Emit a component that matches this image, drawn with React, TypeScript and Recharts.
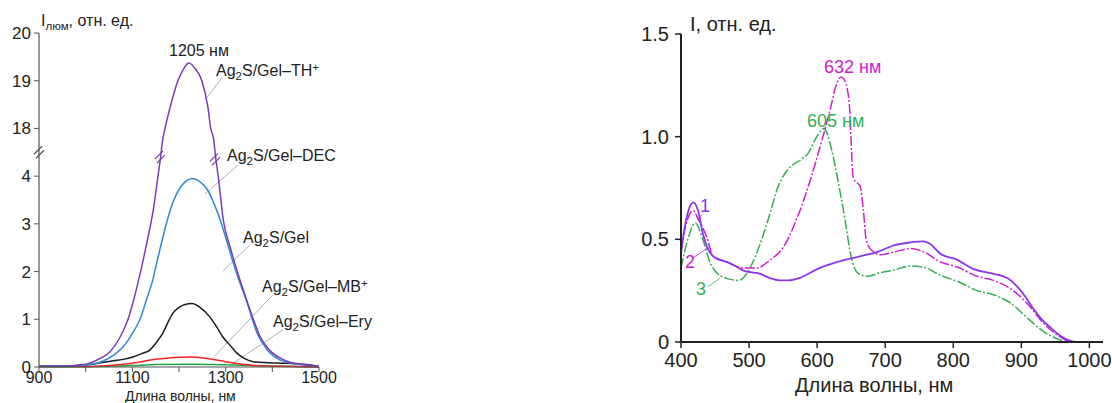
import React from 'react';
import { LineChart, Line, XAxis, YAxis, ReferenceLine, ReferenceDot } from 'recharts';

// left panel: luminescence, y axis broken between 4 and 18
const thPlus: [number, number][] = [
  [900, 0.02], [950, 0.02], [1000, 0.06], [1025, 0.15], [1050, 0.3], [1075, 0.65], [1090, 0.98],
  [1100, 1.3], [1110, 1.68], [1120, 2.1], [1134, 2.74], [1145, 3.3], [1155, 4.0], [1160, 9.0],
  [1165, 14.6], [1170, 18.0], [1181, 18.44], [1196, 18.95], [1210, 19.25], [1221, 19.37],
  [1235, 19.25], [1249, 19.0], [1262, 18.44], [1268, 18.0], [1274, 15.0], [1279, 9.0], [1284, 4.0],
  [1295, 3.08], [1310, 2.5], [1324, 2.03], [1340, 1.55], [1352, 1.2], [1363, 0.9], [1374, 0.63],
  [1390, 0.4], [1401, 0.29], [1420, 0.17], [1438, 0.1], [1460, 0.06], [1487, 0.03], [1500, 0.01],
];
const dec: [number, number][] = [
  [900, 0.02], [950, 0.02], [1000, 0.04], [1031, 0.1], [1060, 0.25], [1080, 0.42], [1100, 0.7],
  [1116, 0.99], [1130, 1.4], [1144, 1.83], [1155, 2.3], [1166, 2.74], [1177, 3.15], [1187, 3.45],
  [1200, 3.72], [1213, 3.88], [1228, 3.95], [1245, 3.88], [1260, 3.73], [1274, 3.45], [1288, 3.09],
  [1302, 2.65], [1316, 2.19], [1331, 1.75], [1346, 1.35], [1357, 1.0], [1367, 0.72], [1389, 0.36],
  [1416, 0.15], [1440, 0.08], [1459, 0.05], [1480, 0.03], [1500, 0.01],
];
const gel: [number, number][] = [
  [900, 0.02], [950, 0.02], [1009, 0.05], [1040, 0.1], [1059, 0.13], [1080, 0.16], [1101, 0.21],
  [1120, 0.28], [1138, 0.36], [1152, 0.52], [1166, 0.72], [1177, 0.95], [1187, 1.13], [1200, 1.25],
  [1213, 1.31], [1228, 1.33], [1245, 1.25], [1266, 1.05], [1280, 0.85], [1294, 0.63], [1310, 0.45],
  [1324, 0.29], [1340, 0.18], [1359, 0.11], [1390, 0.09], [1416, 0.08], [1450, 0.07], [1474, 0.05],
  [1500, 0.01],
];
const mbPlus: [number, number][] = [
  [900, 0.01], [1000, 0.01], [1050, 0.03], [1100, 0.08], [1150, 0.16], [1190, 0.2], [1228, 0.21],
  [1260, 0.18], [1300, 0.11], [1340, 0.05], [1380, 0.02], [1450, 0.01], [1500, 0],
];
const ery: [number, number][] = [
  [900, 0], [1000, 0.005], [1100, 0.03], [1150, 0.05], [1228, 0.06], [1300, 0.045], [1400, 0.02], [1500, 0],
];
const leftXTicks = [900, 1000, 1100, 1200, 1300, 1400, 1500];
const leftXLabels = ['900', '', '1100', '', '1300', '', '1500'];
const leftYTicks = [0, 1, 2, 3, 4, 5, 6, 7];
const leftYLabels = ['0', '1', '2', '3', '4', '18', '19', '20'];

// right panel: absorption spectra 1, 2, 3
const spec1: [number, number][] = [
  [400, 0.43], [405, 0.55], [410, 0.63], [418, 0.68], [425, 0.64], [432, 0.53], [440, 0.45],
  [450, 0.41], [467, 0.39], [480, 0.37], [494, 0.345], [513, 0.335], [532, 0.31], [545, 0.3],
  [557, 0.3], [577, 0.315], [600, 0.355], [630, 0.39], [660, 0.415], [690, 0.44], [712, 0.47],
  [737, 0.485], [756, 0.49], [765, 0.48], [781, 0.43], [806, 0.4], [830, 0.355], [855, 0.335],
  [880, 0.31], [894, 0.27], [906, 0.22], [918, 0.16], [930, 0.11], [943, 0.07], [955, 0.035],
  [968, 0.01], [980, 0], [1000, 0], [1020, 0],
];
const spec2: [number, number][] = [
  [400, 0.44], [405, 0.54], [410, 0.6], [418, 0.64], [425, 0.6], [438, 0.51], [447, 0.42],
  [467, 0.39], [491, 0.36], [511, 0.36], [531, 0.4], [550, 0.46], [557, 0.5], [570, 0.6],
  [577, 0.66], [591, 0.8], [606, 0.97], [619, 1.13], [628, 1.25], [635, 1.29], [641, 1.27],
  [648, 1.13], [650, 0.97], [653, 0.8], [657, 0.78], [663, 0.76], [668, 0.64], [672, 0.5],
  [679, 0.45], [693, 0.425], [715, 0.44], [737, 0.455], [756, 0.44], [781, 0.39], [806, 0.365],
  [835, 0.32], [859, 0.3], [884, 0.26], [908, 0.19], [933, 0.09], [957, 0.025], [974, 0], [1020, 0],
];
const spec3: [number, number][] = [
  [400, 0.36], [410, 0.5], [421, 0.58], [432, 0.5], [443, 0.385], [453, 0.335], [467, 0.31],
  [484, 0.3], [497, 0.335], [509, 0.415], [528, 0.595], [543, 0.76], [557, 0.84], [577, 0.89],
  [587, 0.92], [597, 0.985], [606, 1.03], [610, 1.04], [621, 0.94], [631, 0.78], [641, 0.595],
  [650, 0.415], [660, 0.335], [675, 0.32], [690, 0.335], [712, 0.35], [737, 0.37], [756, 0.365],
  [781, 0.325], [810, 0.29], [835, 0.25], [859, 0.23], [884, 0.19], [908, 0.12], [933, 0.05],
  [957, 0.01], [965, 0], [1020, 0],
];
const rightXTicks = [400, 500, 600, 700, 800, 900, 1000];
const rightYTicks = [0, 0.5, 1.0, 1.5];
const rightYLabels = ['0', '0.5', '1.0', '1.5'];

const FONT = '"Liberation Sans", Arial, sans-serif';
const PURPLE = '#7c3cb6';
const BLUE = '#2d8bd2';
const BLACK = '#1c1c1c';
const RED = '#ee2424';
const GREEN = '#22a445';
const VIOLET = '#8f35f2';
const MAGENTA = '#cc22cc';
const GREEN2 = '#35ad55';
const LEADER = '#9a9a9a';

const broken = (v: number) => (v <= 4 ? v : v >= 18 ? v - 13 : 4 + (v - 4) / 14);
const toLeft = (s: [number, number][]) => s.map(([x, v]) => ({ x, y: broken(v) }));
const toRight = (s: [number, number][]) => s.map(([x, y]) => ({ x, y }));

function Note({ x, y, size, color = '#222', children }: { x: number; y: number; size: number; color?: string; children: React.ReactNode }) {
  return (
    <div style={{ position: 'absolute', left: x, top: y - size * 0.55, fontSize: size, lineHeight: 1, color, whiteSpace: 'nowrap', fontFamily: FONT }}>
      {children}
    </div>
  );
}

const sub = (t: string) => <span style={{ fontSize: '0.72em', position: 'relative', top: '0.3em' }}>{t}</span>;
const sup = (t: string) => <span style={{ fontSize: '0.72em', position: 'relative', top: '-0.45em' }}>{t}</span>;

const breakMark = (color: string, w: number) => (p: any) => (
  <g stroke={color} strokeWidth={w}>
    <line x1={p.cx - 5} y1={p.cy + 2} x2={p.cx + 3} y2={p.cy - 6} />
    <line x1={p.cx - 3} y1={p.cy + 6} x2={p.cx + 5} y2={p.cy - 2} />
  </g>
);

export default function App() {
  const dash = '10 2 2 2';
  return (
    <div style={{ position: 'absolute', left: 0, top: 0, width: 1112, height: 403, background: '#fff', fontFamily: FONT }}>
      <div style={{ position: 'absolute', left: 0, top: 0 }}>
        <LineChart width={340} height={403} margin={{ top: 33, right: 21, bottom: 0, left: 9 }}>
          <XAxis type="number" dataKey="x" domain={[900, 1500]} ticks={leftXTicks} interval={0}
            tickFormatter={(v) => leftXLabels[leftXTicks.indexOf(v)] ?? ''}
            height={36} tickSize={5} tickMargin={0}
            axisLine={{ stroke: '#555', strokeWidth: 1.2 }} tickLine={{ stroke: '#555' }}
            tick={{ fontSize: 16, fill: '#222', fontFamily: FONT }} />
          <YAxis type="number" dataKey="y" domain={[0, 7]} ticks={leftYTicks} interval={0}
            tickFormatter={(v) => leftYLabels[leftYTicks.indexOf(v)] ?? ''}
            width={30} tickSize={5} tickMargin={3}
            axisLine={{ stroke: '#555', strokeWidth: 1.2 }} tickLine={{ stroke: '#555' }}
            tick={{ fontSize: 17, fill: '#222', fontFamily: FONT }} />
          <ReferenceLine segment={[{ x: 1292, y: 6.06 }, { x: 1256, y: 5.6 }]} stroke={LEADER} strokeWidth={0.8} />
          <ReferenceLine segment={[{ x: 1326, y: 4.23 }, { x: 1256, y: 3.63 }]} stroke={LEADER} strokeWidth={0.8} />
          <ReferenceLine segment={[{ x: 1352, y: 2.56 }, { x: 1294, y: 2.01 }]} stroke={LEADER} strokeWidth={0.8} />
          <ReferenceLine segment={[{ x: 1401, y: 1.51 }, { x: 1273, y: 0.19 }]} stroke={LEADER} strokeWidth={0.8} />
          <ReferenceLine segment={[{ x: 1423, y: 0.78 }, { x: 1316, y: 0.08 }]} stroke={LEADER} strokeWidth={0.8} />
          <Line data={toLeft(ery)} dataKey="y" type="monotone" stroke={GREEN} strokeWidth={1.5} dot={false} isAnimationActive={false} />
          <Line data={toLeft(mbPlus)} dataKey="y" type="monotone" stroke={RED} strokeWidth={1.5} dot={false} isAnimationActive={false} />
          <Line data={toLeft(gel)} dataKey="y" type="monotone" stroke={BLACK} strokeWidth={1.5} dot={false} isAnimationActive={false} />
          <Line data={toLeft(dec)} dataKey="y" type="monotone" stroke={BLUE} strokeWidth={1.5} dot={false} isAnimationActive={false} />
          <Line data={toLeft(thPlus)} dataKey="y" type="monotone" stroke={PURPLE} strokeWidth={1.5} dot={false} isAnimationActive={false} />
          <ReferenceDot x={900} y={4.5} r={0} shape={breakMark('#555', 1.2)} ifOverflow="visible" />
          <ReferenceDot x={1159} y={4.4} r={0} shape={breakMark(PURPLE, 1.2)} ifOverflow="visible" />
          <ReferenceDot x={1277} y={4.35} r={0} shape={breakMark(PURPLE, 1.2)} ifOverflow="visible" />
        </LineChart>
      </div>

      <Note x={41} y={22} size={16}>I{sub('люм')}, отн. ед.</Note>
      <Note x={169} y={52} size={16}>1205 нм</Note>
      <Note x={216} y={72} size={16}>Ag{sub('2')}S/Gel–TH{sup('+')}</Note>
      <Note x={227} y={157} size={16}>Ag{sub('2')}S/Gel–DEC</Note>
      <Note x={243} y={239} size={16}>Ag{sub('2')}S/Gel</Note>
      <Note x={262} y={288} size={16}>Ag{sub('2')}S/Gel–MB{sup('+')}</Note>
      <Note x={273} y={323} size={16}>Ag{sub('2')}S/Gel–Ery</Note>
      <Note x={125} y={397} size={14}>Длина волны, нм</Note>

      <div style={{ position: 'absolute', left: 600, top: 0 }}>
        <LineChart width={512} height={403} margin={{ top: 34, right: 9, bottom: 0, left: 41 }}>
          <XAxis type="number" dataKey="x" domain={[400, 1020]} ticks={rightXTicks} interval={0}
            height={61} tickSize={6} tickMargin={5}
            axisLine={{ stroke: '#222', strokeWidth: 2 }} tickLine={{ stroke: '#222', strokeWidth: 1.5 }}
            tick={{ fontSize: 20, fill: '#222', fontFamily: FONT }} />
          <YAxis type="number" dataKey="y" domain={[0, 1.5]} ticks={rightYTicks} interval={0}
            tickFormatter={(v) => rightYLabels[rightYTicks.indexOf(v)] ?? ''}
            width={40} tickSize={6} tickMargin={6}
            axisLine={{ stroke: '#222', strokeWidth: 2 }} tickLine={{ stroke: '#222', strokeWidth: 1.5 }}
            tick={{ fontSize: 20, fill: '#222', fontFamily: FONT }} />
          <ReferenceLine segment={[{ x: 431, y: 0.62 }, { x: 424, y: 0.6 }]} stroke={VIOLET} strokeWidth={0.8} />
          <ReferenceLine segment={[{ x: 418, y: 0.41 }, { x: 440, y: 0.46 }]} stroke={MAGENTA} strokeWidth={0.8} />
          <ReferenceLine segment={[{ x: 440, y: 0.27 }, { x: 457, y: 0.31 }]} stroke={GREEN2} strokeWidth={0.8} />
          <Line data={toRight(spec3)} dataKey="y" type="monotone" stroke={GREEN2} strokeWidth={1.5} strokeDasharray={dash} dot={false} isAnimationActive={false} />
          <Line data={toRight(spec2)} dataKey="y" type="monotone" stroke={MAGENTA} strokeWidth={1.5} strokeDasharray={dash} dot={false} isAnimationActive={false} />
          <Line data={toRight(spec1)} dataKey="y" type="monotone" stroke={VIOLET} strokeWidth={1.8} dot={false} isAnimationActive={false} />
        </LineChart>
      </div>

      <Note x={690} y={25} size={20}>I, отн. ед.</Note>
      <Note x={824} y={68} size={18} color={MAGENTA}>632 нм</Note>
      <Note x={807} y={122} size={18} color={GREEN2}>605 нм</Note>
      <Note x={700} y={207} size={18} color={VIOLET}>1</Note>
      <Note x={685} y={263} size={18} color={MAGENTA}>2</Note>
      <Note x={696} y={290} size={18} color={GREEN2}>3</Note>
      <Note x={795} y={386} size={20}>Длина волны, нм</Note>
    </div>
  );
}
